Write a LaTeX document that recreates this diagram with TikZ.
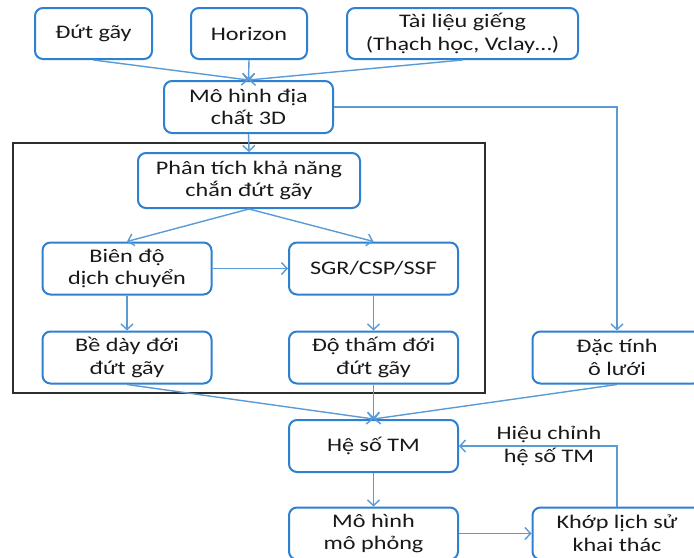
\documentclass[tikz,border=0pt]{standalone}
\usepackage{fontspec}
\setmainfont{Carlito}[FakeStretch=1.26]
\usepackage{xcolor}
\usetikzlibrary{arrows.meta,positioning,calc}
\definecolor{boxblue}{RGB}{46,128,209}
\definecolor{linkblue}{RGB}{91,155,213}
\definecolor{framegray}{RGB}{45,45,45}

\begin{document}
\begin{tikzpicture}[x=0.5pt, y=-0.5pt,
    box/.style={draw=boxblue, line width=1pt, rounded corners=4pt, align=center,
      inner sep=0pt, minimum width=84.5pt, minimum height=26pt},
    link/.style={draw=linkblue, line width=0.7pt, -{Straight Barb[length=2.8pt,width=6pt]}},
    every node/.style={font=\fontsize{9.6}{11.4}\selectfont, text=black!90}]
  \clip (0,0) rectangle (694,557);
  \fill[white] (0,0) rectangle (694,557);
  \node[box, minimum width=58.5pt, minimum height=25.5pt] (fault)   at (93.5,33.5)  {Đứt gãy};
  \node[box, minimum width=58pt, minimum height=25.5pt]   (horizon) at (249,33.5)   {Horizon};
  \node[box, minimum width=115.5pt, minimum height=25.5pt](well)    at (462.5,33.5) {Tài liệu giếng\\(Thạch học, Vclay…)};
  \node[box] (geo)   at (248.5,107)  {Mô hình địa\\chất 3D};
  \node[box, minimum width=111pt, minimum height=27.5pt] (seal) at (249,180.5) {Phân tích khả năng\\chắn đứt gãy};
  \node[box] (throw) at (127,268.5)  {Biên độ\\dịch chuyển};
  \node[box] (sgr)   at (373.5,268.5) {SGR/CSP/SSF};
  \node[box] (thick) at (127,357.5)  {Bề dày đới\\đứt gãy};
  \node[box] (perm)  at (373.5,357.5) {Độ thấm đới\\đứt gãy};
  \node[box] (cell)  at (617,357.5)  {Đặc tính\\ô lưới};
  \node[box] (tm)    at (373.5,446)  {Hệ số TM};
  \node[box] (sim)   at (373.5,533.5) {Mô hình\\mô phỏng};
  \node[box] (match) at (617,533.5)  {Khớp lịch sử\\khai thác};
  \draw[framegray, line width=1pt] (13,143) rectangle (485,393);
  \foreach \s in {fault,horizon,well} \draw[link] (\s.south) -- (geo.north);
  \draw[link] (geo.east) -| (cell.north);
  \draw[link] (geo.south) -- (seal.north);
  \draw[link] (seal.south) -- (throw.north);
  \draw[link] (seal.south) -- (sgr.north);
  \draw[link] (throw.east) -- (sgr.west);
  \draw[link] (throw.south) -- (thick.north);
  \draw[link] (sgr.south) -- (perm.north);
  \foreach \s in {thick,perm,cell} \draw[link] (\s.south) -- (tm.north);
  \draw[link] (tm.south) -- (sim.north);
  \draw[link] (sim.east) -- (match.west);
  \draw[link] (match.north) |- (tm.east);
  \node[align=center] (adjust) at (549,446) {Hiệu chỉnh\\hệ số TM};
\end{tikzpicture}
\end{document}
